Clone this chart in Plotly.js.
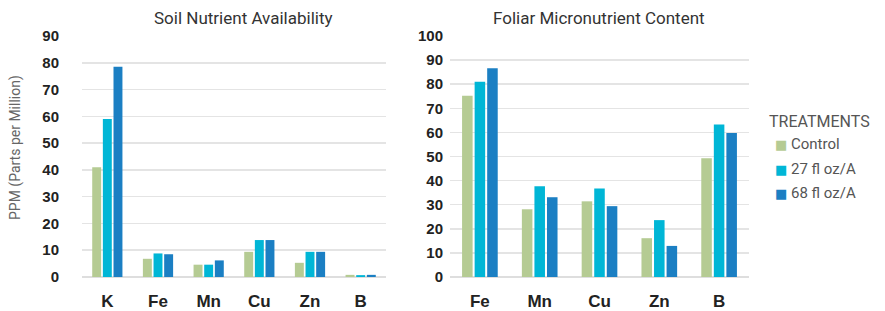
<!DOCTYPE html>
<html>
<head>
<meta charset="utf-8">
<script src="https://cdn.plot.ly/plotly-3.0.1.min.js"></script>
<style>html,body{margin:0;padding:0;background:#fff;}#chart{width:885px;height:311px;}</style>
</head>
<body>
<div id="chart"></div>
<script>
const soilCategories = ['K', 'Fe', 'Mn', 'Cu', 'Zn', 'B'];
const soilControl = [41, 6.8, 4.6, 9.4, 5.3, 0.8];
const soil27 = [59, 8.8, 4.6, 13.8, 9.4, 0.7];
const soil68 = [78.5, 8.5, 6.2, 13.8, 9.4, 0.8];

const foliarCategories = ['Fe', 'Mn', 'Cu', 'Zn', 'B'];
const foliarControl = [75.2, 28.1, 31.4, 16.1, 49.3];
const foliar27 = [81.0, 37.7, 36.7, 23.6, 63.3];
const foliar68 = [86.6, 33.1, 29.4, 12.9, 59.7];

const seriesNames = ['Control', '27 fl oz/A', '68 fl oz/A'];
const seriesColors = ['#b5cb93', '#00b6d6', '#1b7fc3'];
const legendTitle = 'TREATMENTS';

const condensed = '"Roboto", "DejaVu Sans Condensed", sans-serif';
const boldFont = '"Liberation Sans", Arial, sans-serif';

const soilSeries = [soilControl, soil27, soil68];
const foliarSeries = [foliarControl, foliar27, foliar68];

const traces = [];
soilSeries.forEach((vals, i) => {
  traces.push({type: 'bar', x: soilCategories, y: vals, name: seriesNames[i],
    marker: {color: seriesColors[i]}, xaxis: 'x', yaxis: 'y', showlegend: false});
});
foliarSeries.forEach((vals, i) => {
  traces.push({type: 'bar', x: foliarCategories, y: vals, name: seriesNames[i],
    marker: {color: seriesColors[i]}, xaxis: 'x2', yaxis: 'y2', showlegend: false});
});

const W = 885, H = 311;
const yDom = [(H - 277) / H, (H - 36) / H];

const xAxisCommon = {
  type: 'category', showgrid: false, zeroline: false, showline: false,
  ticks: 'outside', ticklen: 0, tickcolor: 'rgba(0,0,0,0)',
  ticklabelstandoff: 9,
  tickfont: {family: boldFont, size: 17, color: '#222', weight: 'bold'}
};
const yAxisCommon = {
  showgrid: true, gridcolor: '#e4e4e4', gridwidth: 1.5,
  zeroline: true, zerolinecolor: '#dedede', zerolinewidth: 2.5,
  showline: false, ticks: '',
  tickfont: {family: boldFont, size: 15, color: '#222', weight: 'bold'}
};

const annotations = [
  {text: 'Soil Nutrient Availability', xref: 'paper', yref: 'paper',
   x: 243 / W, y: (H - 18) / H, xanchor: 'center', yanchor: 'middle', showarrow: false,
   font: {family: condensed, size: 17, color: '#333'}},
  {text: 'Foliar Micronutrient Content', xref: 'paper', yref: 'paper',
   x: 599 / W, y: (H - 18) / H, xanchor: 'center', yanchor: 'middle', showarrow: false,
   font: {family: condensed, size: 17, color: '#333'}},
  {text: 'PPM (Parts per Million)', xref: 'paper', yref: 'paper',
   x: 15 / W, y: (H - 148) / H, xanchor: 'center', yanchor: 'middle', showarrow: false,
   textangle: -90, font: {family: condensed, size: 14, color: '#666'}},
  {text: legendTitle, xref: 'paper', yref: 'paper',
   x: 767 / W, y: (H - 121) / H, xanchor: 'left', yanchor: 'middle', showarrow: false,
   font: {family: condensed, size: 16, color: '#555'}}
];
const legendRowY = [144, 169, 193];
seriesNames.forEach((nm, i) => {
  annotations.push({
    text: '<span style="color:' + seriesColors[i] + ';font-family:DejaVu Sans;font-size:13px">\u25A0</span> ' + nm,
    xref: 'paper', yref: 'paper', x: 773 / W, y: (H - legendRowY[i]) / H,
    xanchor: 'left', yanchor: 'middle', showarrow: false,
    font: {family: condensed, size: 15, color: '#555'}
  });
});

const layout = {
  width: W, height: H,
  margin: {l: 0, r: 0, t: 0, b: 0},
  paper_bgcolor: '#fff', plot_bgcolor: '#fff',
  barmode: 'group', bargap: 0.37, bargroupgap: 0.16,
  showlegend: false,
  xaxis: Object.assign({}, xAxisCommon, {domain: [82 / W, 386 / W], anchor: 'y'}),
  yaxis: Object.assign({}, yAxisCommon, {domain: yDom, range: [0, 90], dtick: 10, anchor: 'x', ticklabelstandoff: 22}),
  xaxis2: Object.assign({}, xAxisCommon, {domain: [450 / W, 749 / W], anchor: 'y2'}),
  yaxis2: Object.assign({}, yAxisCommon, {domain: yDom, range: [0, 100], dtick: 10, anchor: 'x2', ticklabelstandoff: 6}),
  annotations: annotations
};

Plotly.newPlot('chart', traces, layout, {displayModeBar: false, staticPlot: true});
</script>
</body>
</html>
